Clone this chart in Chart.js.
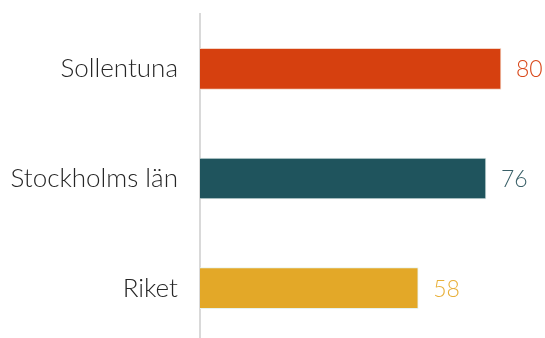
<!DOCTYPE html>
<html>
<head>
<meta charset="utf-8">
<script src="https://cdn.jsdelivr.net/npm/chart.js@4"></script>
<style>
html,body{margin:0;padding:0;background:#fff;overflow:hidden;}
#wrap{width:545px;height:338px;position:relative;overflow:hidden;}
canvas{display:block;}
</style>
</head>
<body>
<div id="wrap"><canvas id="c" width="545" height="343"></canvas></div>
<script>
const categories = ["Sollentuna", "Stockholms län", "Riket"];
const values = [80, 76, 58];
const barColors = ["#D6400F", "#1F545D", "#E3A828"];
const labelColors = ["#D9481A", "#3A6068", "#E8B03A"];
const borderColors = ["#F3D5C6", "#D3E0E0", "#E6F2EE"];

const FONT = "Lato";
const valueLabels = {
  id: 'valueLabels',
  afterDatasetsDraw(chart) {
    const ctx = chart.ctx;
    const meta = chart.getDatasetMeta(0);
    ctx.save();
    ctx.font = "300 23px " + FONT;
    ctx.textAlign = "left";
    ctx.textBaseline = "middle";
    meta.data.forEach((bar, i) => {
      ctx.fillStyle = labelColors[i];
      ctx.fillText(String(values[i]), bar.x + 15, bar.y + 1);
    });
    ctx.restore();
  }
};

new Chart(document.getElementById('c'), {
  type: 'bar',
  data: {
    labels: categories,
    datasets: [{
      data: values,
      backgroundColor: barColors,
      borderColor: borderColors,
      borderWidth: 1,
      borderSkipped: 'left',
      barThickness: 41
    }]
  },
  options: {
    indexAxis: 'y',
    responsive: false,
    animation: false,
    layout: { padding: { top: 14, bottom: 0, right: 0, left: 0 } },
    plugins: { legend: { display: false }, tooltip: { enabled: false } },
    scales: {
      x: { display: false, min: 0, max: 91.7 },
      y: {
        afterFit(scale) { scale.width = 200; scale.paddingTop = 0; scale.paddingBottom = 0; },
        grid: { display: false, drawTicks: false },
        border: { display: true, color: "#D9D9D9", width: 2 },
        ticks: { padding: 22, color: "#262626", font: { family: FONT, size: 26, weight: 300 } }
      }
    }
  },
  plugins: [valueLabels]
});
</script>
</body>
</html>
